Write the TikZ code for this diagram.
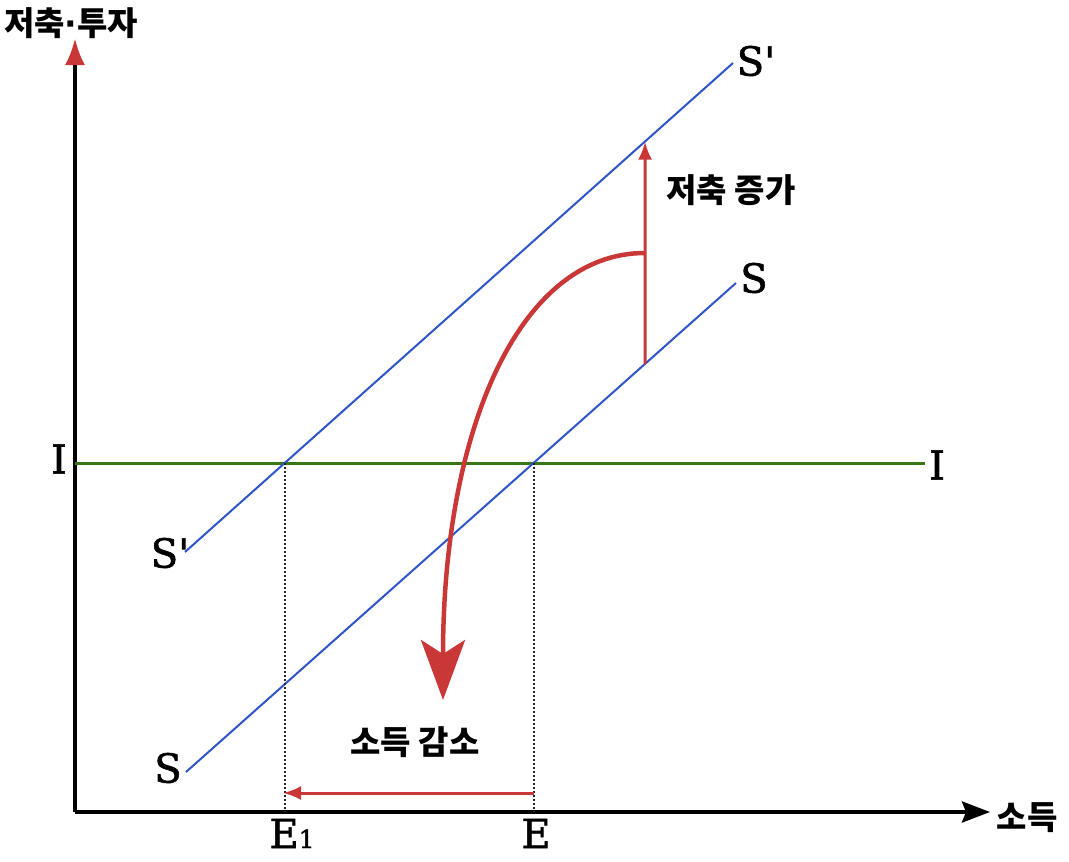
\documentclass[tikz,border=0pt]{standalone}
\usepackage{fontspec}
\usetikzlibrary{arrows.meta}
\newfontfamily\kr{Noto Sans CJK KR}
\newfontfamily\dotfont{DejaVu Sans Bold}
\newfontfamily\ser[FakeBold=1.5]{DejaVu Serif}
\definecolor{sred}{RGB}{201,55,55}
\definecolor{sblue}{RGB}{45,85,200}
\definecolor{sgreen}{RGB}{55,120,20}

\tikzset{
  krlabel/.style={inner sep=0pt, font=\kr\bfseries\fontsize{33}{36}\selectfont},
  serlabel/.style={inner sep=0pt, font=\ser\fontsize{40}{44}\selectfont},
  curve/.style={sblue, line width=2pt},
  guide/.style={black!85, dotted, line width=2pt},
}

\begin{document}
\begin{tikzpicture}[x=1pt,y=-1pt]
  \useasboundingbox (0,0) rectangle (1069,862);
  % axes
  \coordinate (O) at (75,812);
  \coordinate (ytop) at (75,38);
  \coordinate (xend) at (990,812);
  \draw[line width=4pt, -{Latex[color=sred,length=27pt,width=20pt]}] (O) -- (ytop);
  \draw[line width=4pt, -{Stealth[length=28pt,width=21pt,inset=4pt]}] (O) -- (xend);
  \node[krlabel] (ylab) at (71,23) {저축{\dotfont ·}투자};
  \node[krlabel] (xlab) at (1027,818) {소득};

  % investment line I
  \coordinate (I1) at (75,463);
  \coordinate (I2) at (925,463);
  \draw[sgreen, line width=3pt] (I1) -- (I2);
  \node[serlabel] (Ileft) at (59,459) {I};
  \node[serlabel] (Iright) at (937,465) {I};

  % saving lines S and S'
  \coordinate (Sp1) at (185,552);
  \coordinate (Sp2) at (733,63);
  \coordinate (S1) at (186,772);
  \coordinate (S2) at (736,283);
  \draw[curve] (Sp1) -- (Sp2);
  \draw[curve] (S1) -- (S2);
  \node[serlabel] (Spleft) at (170,553) {S\textquotesingle};
  \node[serlabel] (Spright) at (756,61) {S\textquotesingle};
  \node[serlabel] (Sright) at (754,278) {S};
  \node[serlabel] (Sleft) at (168,768) {S};

  % equilibria
  \coordinate (E1top) at (intersection of Sp1--Sp2 and I1--I2);
  \coordinate (Etop) at (intersection of S1--S2 and I1--I2);
  \foreach \p in {E1top,Etop} {   %dotted drop to the income axis
    \draw[guide] (\p) -- (\p |- O);
  }
  \node[serlabel, anchor=base] (E1) at (292,848) {E{\fontsize{25}{25}\selectfont 1}};
  \node[serlabel, anchor=base] (E) at (536,848) {E};

  % income falls
  \coordinate (arrR) at (Etop |- 0,793);
  \coordinate (arrL) at (283,793);
  \draw[sred, line width=3pt, -{Latex[length=18pt,width=14pt]}] (arrR) -- (arrL);
  \node[krlabel] (dec) at (415,742) {소득 감소};

  % saving rises
  \coordinate (v1) at (645,0);
  \coordinate (v2) at (645,862);
  \coordinate (upB) at (intersection of S1--S2 and v1--v2);
  \coordinate (upT) at (intersection of Sp1--Sp2 and v1--v2);
  \draw[sred, line width=3pt, -{Latex[length=18pt,width=14pt]}] (upB) -- (upT);
  \node[krlabel] (inc) at (731,190) {저축 증가};

  % big turning arrow
  \coordinate (cs) at (645,253);
  \coordinate (ce) at (443,700);
  \draw[sred, line width=4.5pt, -{Stealth[length=60pt,width=44pt,inset=14pt]}]
    (cs) .. controls (519,253) and (443,430) .. (ce);
\end{tikzpicture}
\end{document}
